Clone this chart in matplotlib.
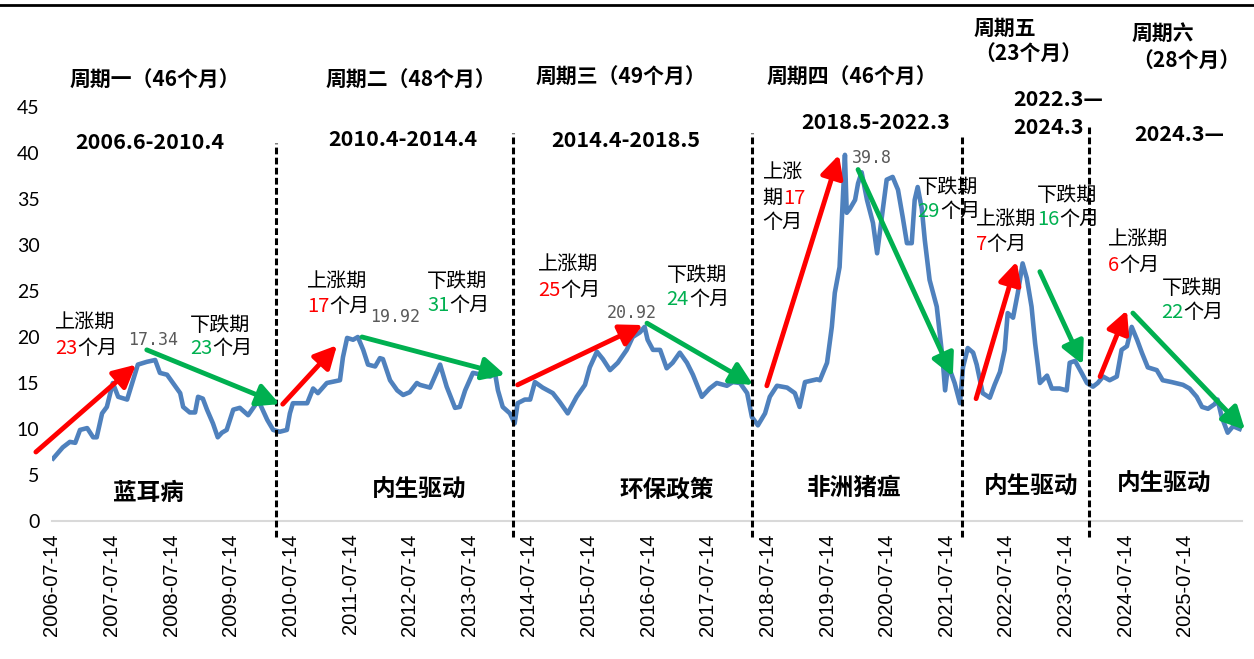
import numpy as np
import matplotlib.pyplot as plt
from matplotlib.lines import Line2D

plt.rcParams['font.family'] = ['Noto Sans CJK SC', 'DejaVu Sans']

# x = years since 2006-07-14, y = price (yuan/kg)
t_years = [0.02, 0.18, 0.30, 0.39, 0.47, 0.59, 0.69, 0.75, 0.84, 0.92, 1.02, 1.11, 1.26, 1.36, 1.44,
           1.59, 1.73, 1.81, 1.93, 2.03, 2.15, 2.20, 2.31, 2.40, 2.45, 2.53, 2.60, 2.70, 2.78, 2.85,
           2.93, 3.04, 3.15, 3.29, 3.44, 3.49, 3.61, 3.71, 3.82, 3.94, 3.99, 4.04, 4.28, 4.38, 4.46,
           4.61, 4.83, 4.88, 4.95, 5.05, 5.13, 5.22, 5.30, 5.42, 5.50, 5.55, 5.67, 5.79, 5.89, 6.00,
           6.12, 6.17, 6.34, 6.51, 6.62, 6.76, 6.84, 6.93, 7.06, 7.21, 7.35, 7.43, 7.48, 7.56, 7.68,
           7.76, 7.81, 7.93, 8.02, 8.10, 8.23, 8.40, 8.52, 8.65, 8.80, 8.94, 9.02, 9.14, 9.24, 9.36,
           9.49, 9.64, 9.74, 9.86, 9.94, 9.99, 10.08, 10.20, 10.31, 10.41, 10.53, 10.65, 10.75, 10.90,
           11.03, 11.15, 11.32, 11.42, 11.54, 11.66, 11.74, 11.84, 11.96, 12.04, 12.16, 12.33, 12.46,
           12.54, 12.63, 12.83, 12.88, 13.00, 13.08, 13.13, 13.21, 13.25, 13.30, 13.33, 13.38, 13.47,
           13.52, 13.58, 13.67, 13.77, 13.84, 13.89, 14.00, 14.10, 14.19, 14.27, 14.34, 14.42, 14.47,
           14.52, 14.59, 14.64, 14.72, 14.84, 14.89, 14.94, 14.98, 15.03, 15.14, 15.23, 15.28, 15.36,
           15.45, 15.51, 15.61, 15.73, 15.81, 15.90, 15.98, 16.03, 16.12, 16.20, 16.28, 16.35, 16.43,
           16.49, 16.54, 16.57, 16.69, 16.77, 16.90, 17.02, 17.07, 17.16, 17.27, 17.36, 17.46, 17.54,
           17.63, 17.74, 17.86, 17.94, 18.03, 18.11, 18.20, 18.28, 18.38, 18.53, 18.63, 18.78, 18.97,
           19.08, 19.20, 19.29, 19.39, 19.50, 19.55, 19.62, 19.72, 19.81, 19.92]
price = [6.8, 8.0, 8.6, 8.5, 9.9, 10.1, 9.1, 9.1, 11.7, 12.4, 15.0, 13.5, 13.2, 15.3, 17.0,
         17.3, 17.5, 16.1, 15.9, 15.0, 13.9, 12.4, 11.8, 11.8, 13.5, 13.3, 12.1, 10.6, 9.1, 9.6,
         9.9, 12.1, 12.3, 11.5, 12.9, 12.7, 11.0, 9.9, 9.7, 9.9, 11.7, 12.8, 12.8, 14.4, 13.9,
         15.0, 15.3, 17.8, 19.9, 19.7, 20.0, 18.6, 17.0, 16.8, 17.7, 17.6, 15.3, 14.2, 13.7, 14.0,
         15.0, 14.8, 14.5, 17.0, 14.6, 12.3, 12.4, 14.2, 16.1, 15.9, 15.7, 16.1, 14.2, 12.4, 11.7,
         10.6, 12.8, 13.2, 13.2, 15.1, 14.5, 13.9, 12.9, 11.7, 13.5, 14.8, 16.7, 18.4, 17.6, 16.4,
         17.2, 18.6, 20.0, 20.5, 21.1, 19.7, 18.6, 18.6, 16.6, 17.2, 18.3, 17.2, 15.9, 13.5,
         14.4, 15.0, 14.7, 15.1, 15.0, 13.9, 11.3, 10.4, 11.7, 13.5, 14.7, 14.5, 13.9,
         12.4, 15.1, 15.4, 15.3, 17.2, 21.1, 24.8, 27.6, 33.0, 39.8, 33.5, 33.9, 34.9,
         36.7, 37.9, 34.9, 32.4, 29.1, 31.6, 37.1, 37.4, 36.0, 33.0, 30.2, 30.2, 34.9,
         36.3, 33.9, 30.5, 26.2, 23.3, 20.4, 17.5, 14.2, 17.0, 15.0, 12.8, 16.7, 18.8,
         18.3, 17.0, 13.9, 13.4, 14.8, 16.2, 18.6, 22.6, 22.1, 24.8, 28.0, 26.4, 23.3,
         19.3, 16.7, 15.0, 15.8, 14.4, 14.4, 14.2, 17.2, 17.4, 16.1, 15.0, 14.6, 15.0,
         15.7, 15.3, 15.7, 18.6, 19.0, 21.1, 19.7, 18.3, 16.7, 16.4, 15.3, 15.1, 14.8,
         14.4, 13.5, 12.4, 12.2, 12.7, 13.2, 11.3, 9.6, 10.3, 10.0]

tick_years = list(range(2006, 2026))
tick_labels = [f"{y}-07-14" for y in tick_years]

cycle_names = ["周期一（46个月）", "周期二（48个月）", "周期三（49个月）", "周期四（46个月）"]
cycle_ranges = ["2006.6-2010.4", "2010.4-2014.4", "2014.4-2018.5", "2018.5-2022.3"]
drivers = ["蓝耳病", "内生驱动", "环保政策", "非洲猪瘟", "内生驱动", "内生驱动"]
rise_months = ["23", "17", "25", "17", "7", "6"]
fall_months = ["23", "31", "24", "29", "16", "22"]
peak_values = ["17.34", "19.92", "20.92", "39.8"]
boundaries = [3.76, 7.73, 11.74, 15.26, 17.39]

# arrows: (x0, y0, x1, y1)
rise_arrows = [(-0.27, 7.5, 1.41, 17.0), (3.87, 12.7, 4.78, 19.1), (7.81, 14.8, 9.91, 21.3),
               (11.99, 14.7, 13.20, 39.8), (15.50, 13.3, 16.18, 28.2), (17.58, 15.7, 18.03, 22.9)]
fall_arrows = [(1.59, 18.6, 3.82, 12.7), (5.20, 20.0, 7.60, 15.9), (9.98, 21.5, 11.76, 14.8),
               (13.52, 38.2, 15.11, 15.7), (16.57, 27.1, 17.29, 17.0), (18.13, 22.6, 20.01, 9.9)]

RED = '#FF0000'
GREEN = '#00B050'
BLUE = '#4F81BD'

fig = plt.figure(figsize=(12.54, 6.59), dpi=100)
ax = fig.add_axes([52 / 1254, 1 - 521 / 659, 1190 / 1254, 414 / 659])

ax.plot(t_years, price, color=BLUE, lw=3.3, solid_joinstyle='round', zorder=3)
ax.set_xlim(0, 19.96)
ax.set_ylim(0, 45)
ax.set_yticks(range(0, 46, 5))
ax.set_yticklabels([str(v) for v in range(0, 46, 5)], fontfamily='Lato', fontsize=14)
ax.set_xticks(range(len(tick_labels)))
ax.set_xticklabels(tick_labels, rotation=90, fontfamily='Liberation Sans', fontsize=14.5)
ax.tick_params(axis='y', length=0, pad=9)
ax.tick_params(axis='x', length=0, pad=9)
for s in ['top', 'right', 'left']:
    ax.spines[s].set_visible(False)
ax.spines['bottom'].set_color('#D9D9D9')
ax.spines['bottom'].set_linewidth(1.5)

# cycle boundaries
tops = [41.1, 42.2, 42.2, 42.0, 42.8]
for b, top in zip(boundaries, tops):
    ax.plot([b, b], [-1.7, top], color='black', lw=2.2, dashes=(2.2, 1.1), clip_on=False, zorder=4)


def arrow(x0, y0, x1, y1, color):
    ax.annotate('', xy=(x1, y1), xytext=(x0, y0), annotation_clip=False,
                arrowprops=dict(arrowstyle='-|>,head_length=0.75,head_width=0.38', color=color,
                                lw=3.5, shrinkA=0, shrinkB=0, mutation_scale=18), zorder=5)


for a in rise_arrows:
    arrow(*a, RED)
for a in fall_arrows:
    arrow(*a, GREEN)


def rich(x, y, parts, size=14.5, weight='medium'):
    t = ax.text(x, y, parts[0][0], color=parts[0][1], fontsize=size, fontweight=weight,
                va='center', ha='left')
    for s, c in parts[1:]:
        t = ax.annotate(s, xy=(1, 0), xycoords=t, va='bottom', ha='left', color=c,
                        fontsize=size, fontweight=weight)


def plain(x, y, s, size=14.5, weight='bold', ha='center'):
    ax.text(x, y, s, fontsize=size, fontweight=weight, ha=ha, va='center', color='black')


# headers
for x, y, s in zip([1.73, 6.02, 9.54, 13.42], [47.9, 47.9, 48.2, 48.2], cycle_names):
    plain(x, y, s, size=15)
for x, y, s in zip([1.64, 5.89, 9.63, 13.82], [41.1, 41.5, 41.4, 43.3], cycle_ranges):
    plain(x, y, s, size=15.5)
plain(15.98, 53.6, "周期五", size=15)
plain(16.37, 50.8, "（23个月）", size=15)
plain(16.12, 45.8, "2022.3—", size=15.5, ha='left')
plain(16.12, 42.8, "2024.3", size=15.5, ha='left')
plain(18.63, 53.0, "周期六", size=15)
plain(19.02, 50.1, "（28个月）", size=15)
plain(18.16, 42.0, "2024.3—", size=15.5, ha='left')

# drivers
for x, y, s in zip([1.61, 6.15, 10.31, 13.45, 16.43, 18.65], [3.0, 3.4, 3.4, 3.6, 3.7, 4.1], drivers):
    plain(x, y, s, size=17)

# rise / fall labels
rise_pos = [(0.05, 21.5), (4.28, 26.0), (8.15, 27.8), None, (15.49, 32.7), (17.71, 30.5)]
fall_pos = [(2.31, 21.3), (6.29, 26.0), (10.31, 26.7), (14.52, 36.2), (16.52, 35.4), (18.61, 25.3)]
for i in range(6):
    if rise_pos[i] is not None:
        x, y = rise_pos[i]
        rich(x, y, [("上涨期", 'black')])
        rich(x, y - 2.7, [(rise_months[i], RED), ("个月", 'black')])
    x, y = fall_pos[i]
    rich(x, y, [("下跌期", 'black')])
    rich(x, y - 2.6, [(fall_months[i], GREEN), ("个月", 'black')])

# cycle four rise label, stacked
rich(11.92, 37.8, [("上涨", 'black')])
rich(11.92, 35.1, [("期", 'black'), (rise_months[3], RED)])
rich(11.92, 32.4, [("个月", 'black')])

# peak values
for x, y, s in zip([1.27, 5.33, 9.31, 13.42], [19.7, 22.2, 22.6, 39.5], peak_values):
    ax.text(x, y, s, fontsize=12, fontfamily='DejaVu Sans Mono', color='#595959',
            ha='left', va='center')

fig.add_artist(Line2D([0, 1], [1 - 4.7 / 659] * 2, color='black', lw=2))

fig.savefig('out.png', dpi=100)
